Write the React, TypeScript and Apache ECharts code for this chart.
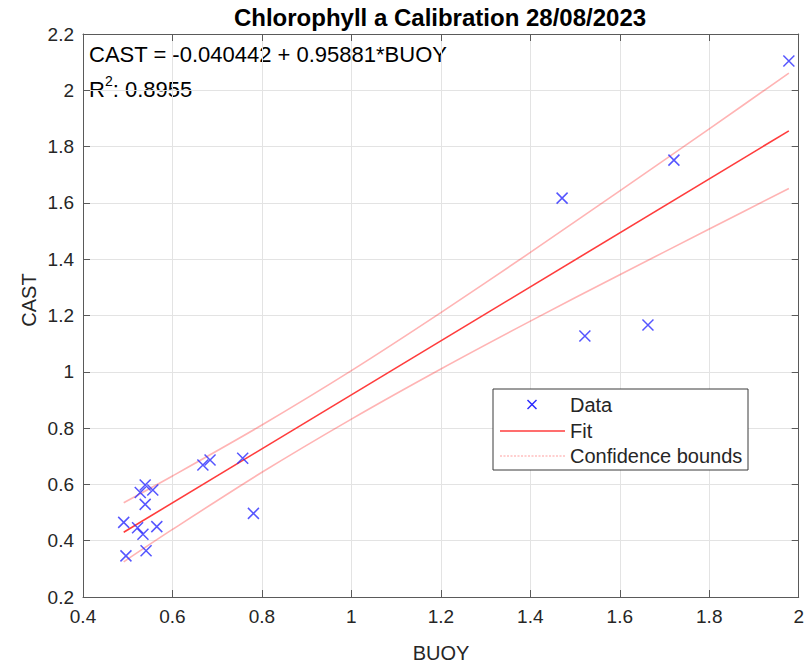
import React, { useEffect, useRef } from "react";
import * as echarts from "echarts";

// Data
const BUOY = [1.978, 1.721, 1.471, 1.522, 1.663, 0.757, 0.684, 0.668, 0.781, 0.539, 0.556, 0.528, 0.539, 0.491, 0.522, 0.565, 0.534, 0.541, 0.496];
const CAST = [2.104, 1.752, 1.617, 1.127, 1.166, 0.693, 0.687, 0.669, 0.497, 0.598, 0.580, 0.571, 0.529, 0.465, 0.446, 0.450, 0.423, 0.364, 0.346];

const FIT_X = [0.491, 1.978];
const FIT_Y = [0.430, 1.856];

const BAND_X = [0.491, 0.6, 0.8, 1.0, 1.2, 1.4, 1.6, 1.8, 1.978];
const UPPER = [0.535, 0.630, 0.811, 1.004, 1.210, 1.424, 1.643, 1.863, 2.061];
const LOWER = [0.325, 0.440, 0.643, 0.832, 1.010, 1.180, 1.345, 1.507, 1.651];

const TITLE = "Chlorophyll a Calibration 28/08/2023";
const EQUATION = "CAST = -0.040442 + 0.95881*BUOY";
const R2_TEXT = ": 0.8955";
const X_NAME = "BUOY";
const Y_NAME = "CAST";
const LEGEND = ["Data", "Fit", "Confidence bounds"];

const FONT = "'Liberation Sans', Arial, Helvetica, sans-serif";
const AXIS_COLOR = "#5a5a5a";
const TEXT_COLOR = "#262626";
const GRID_COLOR = "#e3e3e3";
const BLUE = "#2a2aff";
const RED = "rgb(255,60,60)";
const PINK = "rgba(255,40,40,0.35)";

const CROSS = "path://M0,0L10,10M10,0L0,10";

export default function App() {
  const ref = useRef<HTMLDivElement>(null);

  useEffect(() => {
    if (!ref.current) return;
    const chart = echarts.init(ref.current, null, { renderer: "svg" });

    const gl = 83, gr = 799, gt = 34, gb = 597;

    const baseX = {
      type: "value",
      min: 0.4,
      max: 2,
      interval: 0.2,
    };
    const baseY = {
      type: "value",
      min: 0.2,
      max: 2.2,
      interval: 0.2,
    };

    const option: any = {
      animation: false,
      backgroundColor: "#ffffff",
      grid: { left: gl, right: 807 - gr, top: gt, bottom: 668 - gb, containLabel: false },
      xAxis: [
        {
          ...baseX,
          position: "bottom",
          axisLine: { show: true, onZero: false, lineStyle: { color: AXIS_COLOR, width: 1 } },
          axisTick: { show: true, inside: true, length: 7, lineStyle: { color: AXIS_COLOR } },
          splitLine: { show: true, lineStyle: { color: GRID_COLOR, width: 1 } },
          axisLabel: { show: true, fontSize: 19, fontFamily: FONT, color: TEXT_COLOR, margin: 10 },
        },
        {
          ...baseX,
          position: "top",
          axisLine: { show: true, onZero: false, lineStyle: { color: AXIS_COLOR, width: 1 } },
          axisTick: { show: true, inside: true, length: 7, lineStyle: { color: AXIS_COLOR } },
          splitLine: { show: false },
          axisLabel: { show: false },
        },
      ],
      yAxis: [
        {
          ...baseY,
          position: "left",
          axisLine: { show: true, onZero: false, lineStyle: { color: AXIS_COLOR, width: 1 } },
          axisTick: { show: true, inside: true, length: 7, lineStyle: { color: AXIS_COLOR } },
          splitLine: { show: true, lineStyle: { color: GRID_COLOR, width: 1 } },
          axisLabel: { show: true, fontSize: 19, fontFamily: FONT, color: TEXT_COLOR, margin: 9 },
        },
        {
          ...baseY,
          position: "right",
          axisLine: { show: true, onZero: false, lineStyle: { color: AXIS_COLOR, width: 1 } },
          axisTick: { show: true, inside: true, length: 7, lineStyle: { color: AXIS_COLOR } },
          splitLine: { show: false },
          axisLabel: { show: false },
        },
      ],
      series: [
        {
          name: "Upper bound",
          type: "line",
          data: BAND_X.map((x, i) => [x, UPPER[i]]),
          smooth: 0.3,
          showSymbol: false,
          lineStyle: { color: PINK, width: 1.6 },
          z: 2,
        },
        {
          name: "Lower bound",
          type: "line",
          data: BAND_X.map((x, i) => [x, LOWER[i]]),
          smooth: 0.3,
          showSymbol: false,
          lineStyle: { color: PINK, width: 1.6 },
          z: 2,
        },
        {
          name: "Fit",
          type: "line",
          data: FIT_X.map((x, i) => [x, FIT_Y[i]]),
          showSymbol: false,
          lineStyle: { color: RED, width: 1.6 },
          z: 3,
        },
        {
          name: "Data",
          type: "scatter",
          data: BUOY.map((x, i) => [x, CAST[i]]),
          symbol: CROSS,
          symbolSize: 11,
          itemStyle: { color: "none", borderColor: BLUE, borderWidth: 1.5 },
          z: 4,
        },
      ],
      graphic: [
        {
          type: "text",
          x: 440,
          y: 17,
          style: {
            text: TITLE,
            font: `bold 24px ${FONT}`,
            fill: "#000",
            align: "center",
            verticalAlign: "middle",
          },
        },
        {
          type: "text",
          x: 89,
          y: 54,
          style: { text: EQUATION, font: `22px ${FONT}`, fill: "#000", verticalAlign: "middle" },
        },
        {
          type: "text",
          x: 89,
          y: 89,
          style: { text: "R", font: `22px ${FONT}`, fill: "#000", verticalAlign: "middle" },
        },
        {
          type: "text",
          x: 89 + 22 * 0.722,
          y: 81,
          style: { text: "2", font: `14px ${FONT}`, fill: "#000", verticalAlign: "middle" },
        },
        {
          type: "text",
          x: 89 + 22 * 0.722 + 14 * 0.556,
          y: 89,
          style: { text: R2_TEXT, font: `22px ${FONT}`, fill: "#000", verticalAlign: "middle" },
        },
        {
          type: "text",
          x: (gl + gr) / 2,
          y: 653,
          style: { text: X_NAME, font: `20px ${FONT}`, fill: TEXT_COLOR, align: "center", verticalAlign: "middle" },
        },
        {
          type: "text",
          x: 29,
          y: 300,
          rotation: Math.PI / 2,
          style: { text: Y_NAME, font: `20px ${FONT}`, fill: TEXT_COLOR, align: "center", verticalAlign: "middle" },
        },
        // legend
        {
          type: "rect",
          shape: { x: 493, y: 389, width: 255, height: 81 },
          style: { fill: "#fff", stroke: "#3a3a3a", lineWidth: 1 },
          z: 10,
        },
        {
          type: "line",
          shape: { x1: 527.5, y1: 400, x2: 536.5, y2: 409 },
          style: { stroke: BLUE, lineWidth: 1.5 },
          z: 11,
        },
        {
          type: "line",
          shape: { x1: 536.5, y1: 400, x2: 527.5, y2: 409 },
          style: { stroke: BLUE, lineWidth: 1.5 },
          z: 11,
        },
        {
          type: "text",
          x: 570,
          y: 405,
          style: { text: LEGEND[0], font: `20px ${FONT}`, fill: TEXT_COLOR, verticalAlign: "middle" },
          z: 11,
        },
        {
          type: "line",
          shape: { x1: 500, y1: 431, x2: 565, y2: 431 },
          style: { stroke: RED, lineWidth: 1.6 },
          z: 11,
        },
        {
          type: "text",
          x: 570,
          y: 431,
          style: { text: LEGEND[1], font: `20px ${FONT}`, fill: TEXT_COLOR, verticalAlign: "middle" },
          z: 11,
        },
        {
          type: "line",
          shape: { x1: 500, y1: 456, x2: 565, y2: 456 },
          style: { stroke: "rgba(255,40,40,0.45)", lineWidth: 1.2, lineDash: [2, 1.5] },
          z: 11,
        },
        {
          type: "text",
          x: 570,
          y: 456,
          style: { text: LEGEND[2], font: `20px ${FONT}`, fill: TEXT_COLOR, verticalAlign: "middle" },
          z: 11,
        },
      ],
    };

    chart.setOption(option);
    return () => chart.dispose();
  }, []);

  return (
    <div
      ref={ref}
      style={{ position: "fixed", left: 0, top: 0, width: 807, height: 668, background: "#fff" }}
    />
  );
}
